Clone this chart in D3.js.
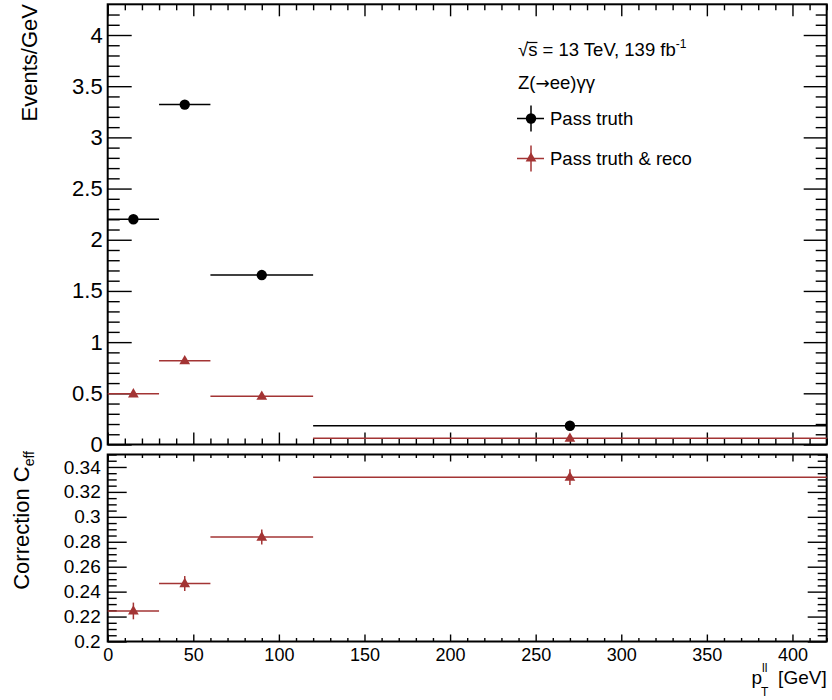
<!DOCTYPE html>
<html>
<head>
<meta charset="utf-8">
<script src="https://cdn.jsdelivr.net/npm/d3@7"></script>
<style>
  html, body { margin: 0; padding: 0; background: #fff; }
  svg { display: block; }
  text { font-family: "Liberation Sans", Arial, Helvetica, sans-serif; fill: #000; }
</style>
</head>
<body>
<svg id="chart" width="832" height="700"></svg>
<script>
// ---- data ----
const binLow   = [0, 30, 60, 120];
const binHigh  = [30, 60, 120, 420];
const binCenter = [15, 45, 90, 270];
const passTruth      = [2.20, 3.32, 1.655, 0.183];
const passTruthErr   = [0.02, 0.03, 0.015, 0.003];
const passTruthReco  = [0.495, 0.818, 0.472, 0.061];
const passTruthRecoErr = [0.01, 0.015, 0.008, 0.002];
const cEff     = [0.2245, 0.2465, 0.2838, 0.3318];
const cEffErr  = [0.0067, 0.006, 0.006, 0.0063];
const xTicks    = [0, 50, 100, 150, 200, 250, 300, 350, 400];
const yTopTicks = [0, 0.5, 1, 1.5, 2, 2.5, 3, 3.5, 4];
const yBotTicks = [0.2, 0.22, 0.24, 0.26, 0.28, 0.3, 0.32, 0.34];

const red = "#a33434";
const svg = d3.select("#chart");

const L = 107.7, R = 826.7;
const topT = 4.3, topB = 444.5;
const botT = 454.5, botB = 641.5;

const x = d3.scaleLinear().domain([0, 420]).range([L, R]);
const yTop = d3.scaleLinear().domain([0, 4.3]).range([topB, topT]);
const yBot = d3.scaleLinear().domain([0.2, 0.35]).range([botB, botT]);

const fmt = d3.format("~g");
const xMinor = d3.range(0, 421, 10).filter(v => v % 50 !== 0);
const yTopMinor = d3.range(0, 43).map(i => +(i * 0.1).toFixed(2)).filter(v => Math.abs(v * 2 - Math.round(v * 2)) > 1e-6);
const yBotMinor = d3.range(0, 31).map(i => +(0.2 + i * 0.005).toFixed(4)).filter(v => Math.abs(v * 50 - Math.round(v * 50)) > 1e-6);

function styleAxis(g, fs) {
  g.select(".domain").remove();
  g.selectAll(".tick line").attr("stroke", "#000").attr("stroke-width", 1.4);
  g.selectAll(".tick text").attr("font-size", fs).attr("font-family", '"Liberation Sans", Arial, sans-serif').attr("fill", "#000");
}

// ---- top panel axes ----
styleAxis(svg.append("g").attr("transform", `translate(${L},0)`)
  .call(d3.axisLeft(yTop).tickValues(yTopTicks).tickSize(-24).tickPadding(5).tickFormat(fmt)), 22);
styleAxis(svg.append("g").attr("transform", `translate(${L},0)`)
  .call(d3.axisLeft(yTop).tickValues(yTopMinor).tickSize(-12).tickFormat("")), 22);
styleAxis(svg.append("g").attr("transform", `translate(${R},0)`)
  .call(d3.axisRight(yTop).tickValues(yTopTicks).tickSize(-23).tickFormat("")), 22);
styleAxis(svg.append("g").attr("transform", `translate(${R},0)`)
  .call(d3.axisRight(yTop).tickValues(yTopMinor).tickSize(-11).tickFormat("")), 22);
styleAxis(svg.append("g").attr("transform", `translate(0,${topB})`)
  .call(d3.axisBottom(x).tickValues(xTicks).tickSize(-12).tickFormat("")), 18);
styleAxis(svg.append("g").attr("transform", `translate(0,${topB})`)
  .call(d3.axisBottom(x).tickValues(xMinor).tickSize(-6).tickFormat("")), 18);
styleAxis(svg.append("g").attr("transform", `translate(0,${topT})`)
  .call(d3.axisTop(x).tickValues(xTicks).tickSize(-12).tickFormat("")), 18);
styleAxis(svg.append("g").attr("transform", `translate(0,${topT})`)
  .call(d3.axisTop(x).tickValues(xMinor).tickSize(-6).tickFormat("")), 18);

// ---- bottom panel axes ----
styleAxis(svg.append("g").attr("transform", `translate(${L},0)`)
  .call(d3.axisLeft(yBot).tickValues(yBotTicks).tickSize(-19).tickPadding(7).tickFormat(fmt)), 19);
styleAxis(svg.append("g").attr("transform", `translate(${L},0)`)
  .call(d3.axisLeft(yBot).tickValues(yBotMinor).tickSize(-9).tickFormat("")), 19);
styleAxis(svg.append("g").attr("transform", `translate(${R},0)`)
  .call(d3.axisRight(yBot).tickValues(yBotTicks).tickSize(-19).tickFormat("")), 19);
styleAxis(svg.append("g").attr("transform", `translate(${R},0)`)
  .call(d3.axisRight(yBot).tickValues(yBotMinor).tickSize(-9).tickFormat("")), 19);
styleAxis(svg.append("g").attr("transform", `translate(0,${botB})`)
  .call(d3.axisBottom(x).tickValues(xTicks).tickSize(-7).tickPadding(6.5).tickFormat(fmt)), 18);
styleAxis(svg.append("g").attr("transform", `translate(0,${botB})`)
  .call(d3.axisBottom(x).tickValues(xMinor).tickSize(-3.5).tickFormat("")), 18);
styleAxis(svg.append("g").attr("transform", `translate(0,${botT})`)
  .call(d3.axisTop(x).tickValues(xTicks).tickSize(-7).tickFormat("")), 18);
styleAxis(svg.append("g").attr("transform", `translate(0,${botT})`)
  .call(d3.axisTop(x).tickValues(xMinor).tickSize(-3.5).tickFormat("")), 18);

// frames
svg.append("rect").attr("x", L).attr("y", topT).attr("width", R - L).attr("height", topB - topT)
  .attr("fill", "none").attr("stroke", "#000").attr("stroke-width", 2);
svg.append("rect").attr("x", L).attr("y", botT).attr("width", R - L).attr("height", botB - botT)
  .attr("fill", "none").attr("stroke", "#000").attr("stroke-width", 2);

// ---- data drawing ----
function drawSeries(g, yScale, vals, errs, color, marker) {
  const idx = d3.range(vals.length);
  g.selectAll(null).data(idx).enter().append("line")
    .attr("x1", i => x(binLow[i])).attr("x2", i => x(binHigh[i]))
    .attr("y1", i => yScale(vals[i])).attr("y2", i => yScale(vals[i]))
    .attr("stroke", color).attr("stroke-width", 1.5);
  g.selectAll(null).data(idx).enter().append("line")
    .attr("x1", i => x(binCenter[i])).attr("x2", i => x(binCenter[i]))
    .attr("y1", i => yScale(vals[i] - errs[i])).attr("y2", i => yScale(vals[i] + errs[i]))
    .attr("stroke", color).attr("stroke-width", 1.5);
  if (marker === "circle") {
    g.selectAll(null).data(idx).enter().append("circle")
      .attr("cx", i => x(binCenter[i])).attr("cy", i => yScale(vals[i])).attr("r", 5.2).attr("fill", color);
  } else {
    g.selectAll(null).data(idx).enter().append("path")
      .attr("d", d3.symbol().type(d3.symbolTriangle).size(50))
      .attr("transform", i => `translate(${x(binCenter[i])},${yScale(vals[i]) + 0.5})`)
      .attr("fill", color);
  }
}
drawSeries(svg.append("g"), yTop, passTruth, passTruthErr, "#000", "circle");
drawSeries(svg.append("g"), yTop, passTruthReco, passTruthRecoErr, red, "triangle");
drawSeries(svg.append("g"), yBot, cEff, cEffErr, red, "triangle");

// ---- axis titles ----
svg.append("text").attr("transform", "translate(37,4) rotate(-90)")
  .attr("text-anchor", "end").attr("font-size", 22).text("Events/GeV");

const ct = svg.append("text").attr("transform", "translate(28.5,451) rotate(-90)")
  .attr("text-anchor", "end").attr("font-size", 22);
ct.append("tspan").text("Correction C");
ct.append("tspan").attr("font-size", 14).attr("dy", 5).text("eff");

// x title: p_T^ll [GeV]
const xt1 = svg.append("text").attr("x", R).attr("y", 684).attr("text-anchor", "end")
  .attr("font-size", 19).text("[GeV]");
const w1 = xt1.node().getComputedTextLength();
const colX = R - w1 - 6 - 10;
svg.append("text").attr("x", colX).attr("y", 672).attr("font-size", 12).text("ll");
svg.append("text").attr("x", colX - 1).attr("y", 696).attr("font-size", 12).text("T");
svg.append("text").attr("x", colX).attr("y", 684).attr("text-anchor", "end").attr("font-size", 19).text("p");

// ---- legend / labels ----
const lx = 518;
const t1 = svg.append("text").attr("x", lx).attr("y", 56).attr("font-size", 18.5);
t1.append("tspan").text("\u221As = 13 TeV, 139 fb");
t1.append("tspan").attr("font-size", 12).attr("dy", -8).text("-1");
// overline on s
{
  const n = t1.select("tspan").node();
  const a = n.getStartPositionOfChar(1).x, b = n.getEndPositionOfChar(1).x;
  svg.append("line").attr("x1", a - 1).attr("x2", b).attr("y1", 42.5).attr("y2", 42.5)
    .attr("stroke", "#000").attr("stroke-width", 1.2);
}
const zt = svg.append("text").attr("x", lx).attr("y", 89).attr("font-size", 18.5);
zt.append("tspan").text("Z(");
zt.append("tspan").attr("font-family", '"DejaVu Sans", sans-serif').attr("font-size", 17).text("\u2192");
zt.append("tspan").text("ee)\u03B3\u03B3");

function legendEntry(yc, color, marker, label) {
  const cx = 531;
  svg.append("line").attr("x1", cx - 14).attr("x2", cx + 13).attr("y1", yc).attr("y2", yc)
    .attr("stroke", color).attr("stroke-width", 1.5);
  svg.append("line").attr("x1", cx).attr("x2", cx).attr("y1", yc - 13).attr("y2", yc + 13)
    .attr("stroke", color).attr("stroke-width", 1.5);
  if (marker === "circle") {
    svg.append("circle").attr("cx", cx).attr("cy", yc).attr("r", 5.2).attr("fill", color);
  } else {
    svg.append("path").attr("d", d3.symbol().type(d3.symbolTriangle).size(50)())
      .attr("transform", `translate(${cx},${yc})`).attr("fill", color);
  }
  svg.append("text").attr("x", 550).attr("y", yc + 6.5).attr("font-size", 18.5).text(label);
}
legendEntry(118.5, "#000", "circle", "Pass truth");
legendEntry(158.5, red, "triangle", "Pass truth & reco");
</script>
</body>
</html>
